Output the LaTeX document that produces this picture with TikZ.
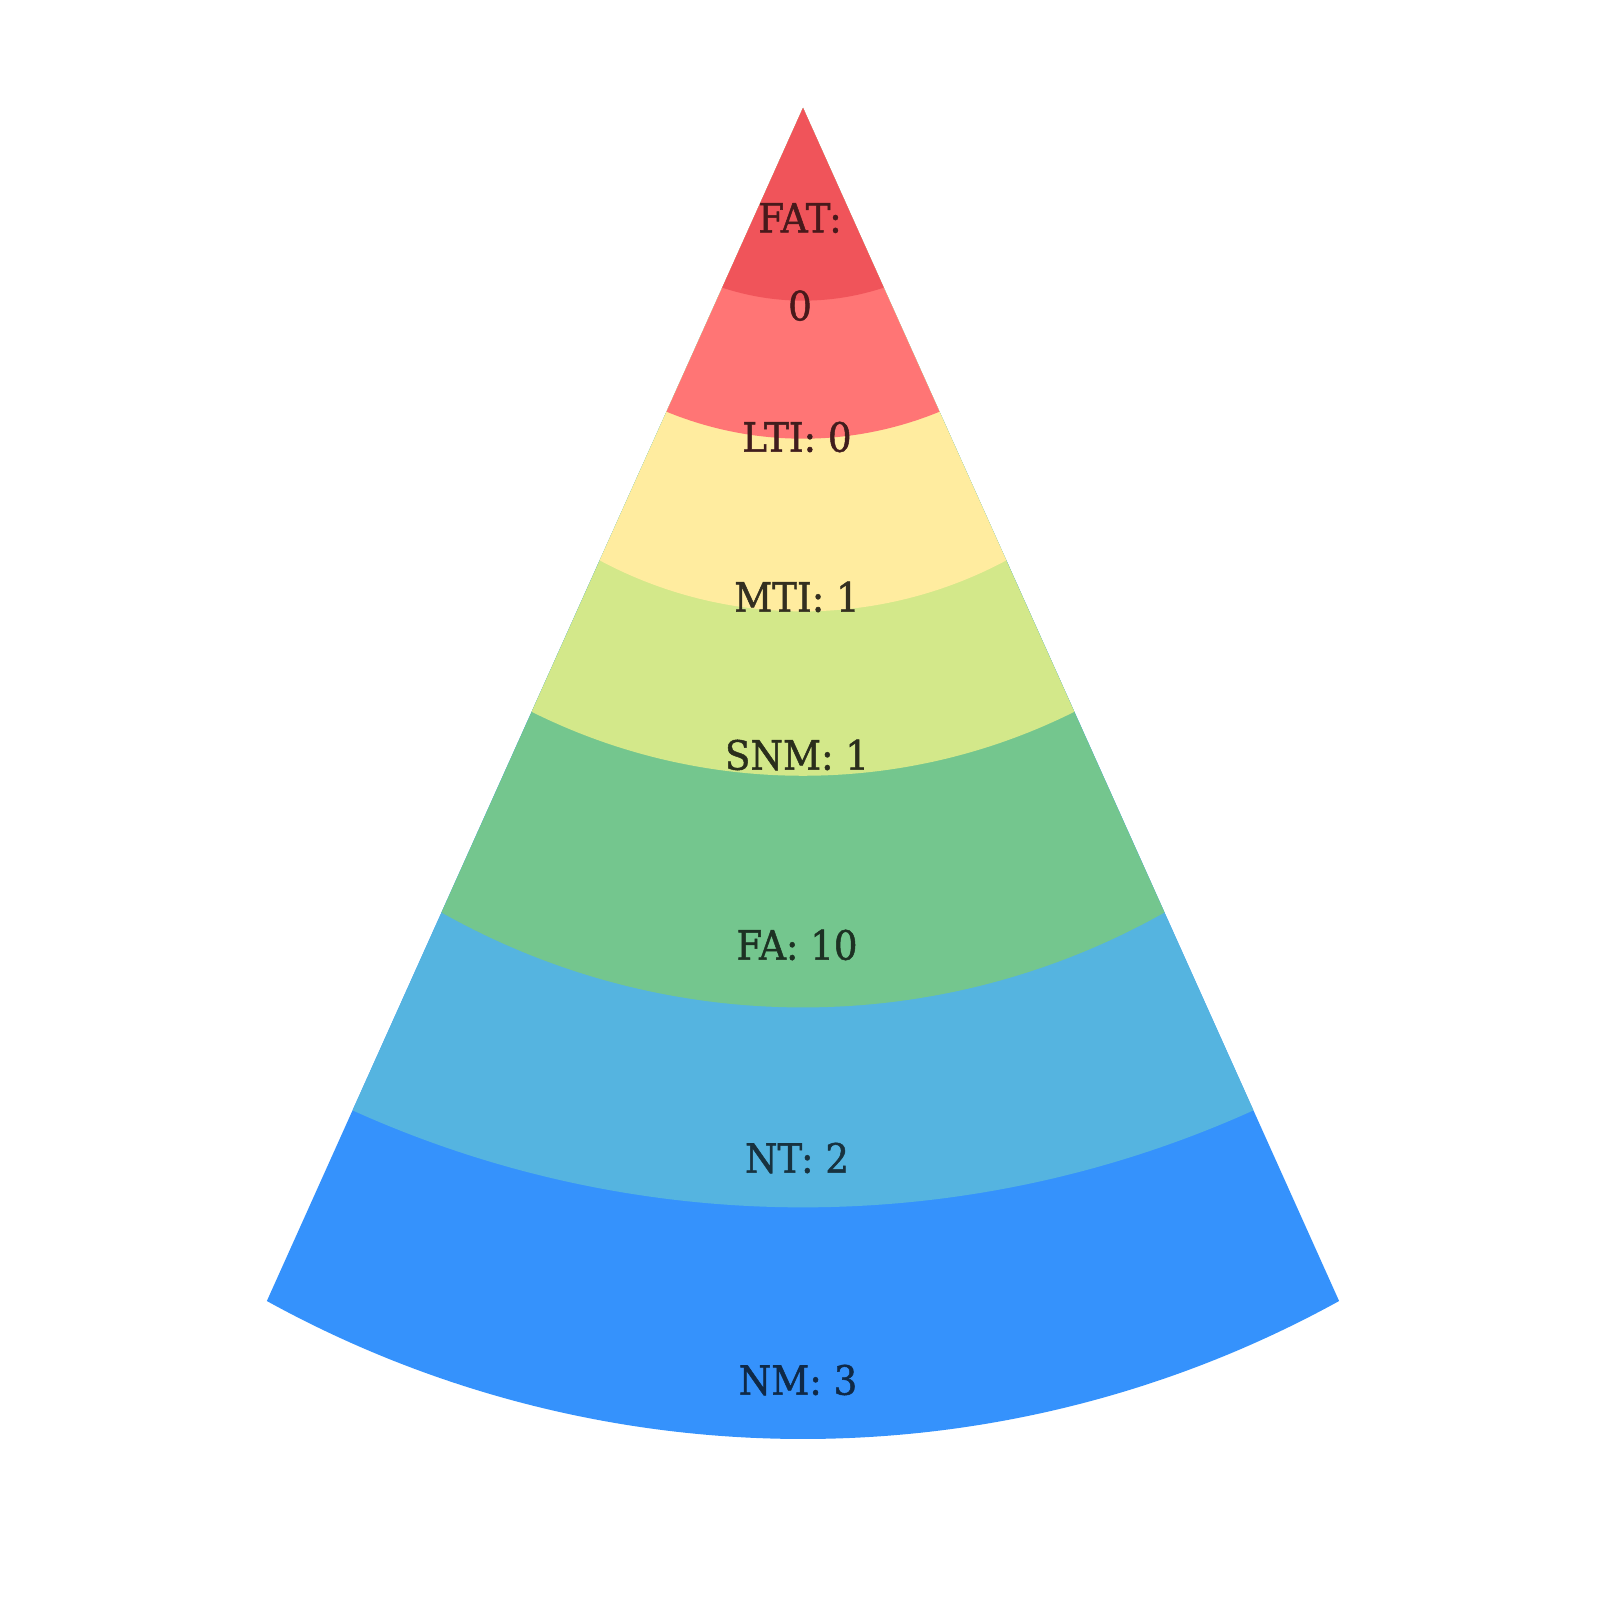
\documentclass[tikz,border=0pt]{standalone}
\usepackage{fontspec}
\setmainfont{DejaVu Serif}[FakeStretch=0.92, FakeBold=1.2]
\usepackage{tikz}

\definecolor{fatred}{HTML}{F0545A}
\definecolor{ltired}{HTML}{FF7575}
\definecolor{mtiyel}{HTML}{FFEC9F}
\definecolor{snmlime}{HTML}{D3E88A}
\definecolor{fagreen}{HTML}{74C68E}
\definecolor{ntblue}{HTML}{55B4E0}
\definecolor{nmblue}{HTML}{3592FC}

\begin{document}
\begin{tikzpicture} [every node/.style={font=\fontsize{11.5}{25}\selectfont, align=center, inner sep=0pt}]
            \useasboundingbox (0,0) rectangle (16,16);
            \coordinate (apex) at (8.03, 14.92);

            % bands, drawn from the widest one up (edge length / sag of the arc)
            \foreach \e/\s/\c in {13.08/1.38/nmblue, 10.99/0.97/ntblue, 8.82/0.95/fagreen, 6.62/0.64/snmlime, 4.96/0.51/mtiyel, 3.33/0.27/ltired, 1.97/0.13/fatred} {
                \pgfmathsetmacro\w{\e*sin(24.2)}
                \pgfmathsetmacro\R{(\w*\w+\s*\s)/(2*\s)}
                \pgfmathsetmacro\a{asin(\w/\R)}
                \fill[\c] (apex) -- ++(-114.2:\e) arc[start angle=-90-\a, end angle=-90+\a, radius=\R] -- cycle;
            }

            \node[text=fatred!30!black]  (fat) at (8.00, 13.38) {FAT:\\0};
            \node[text=ltired!25!black]  (lti) at (7.97, 11.63) {LTI: 0};
            \node[text=mtiyel!20!black]  (mti) at (7.97, 10.03) {MTI: 1};
            \node[text=snmlime!20!black] (snm) at (7.97, 8.45)  {SNM: 1};
            \node[text=fagreen!25!black] (fa)  at (7.97, 6.55)  {FA: 10};
            \node[text=ntblue!28!black]  (nt)  at (7.97, 4.42)  {NT: 2};
            \node[text=nmblue!28!black]  (nm)  at (7.98, 2.20)  {NM: 3};
        \end{tikzpicture}
\end{document}
